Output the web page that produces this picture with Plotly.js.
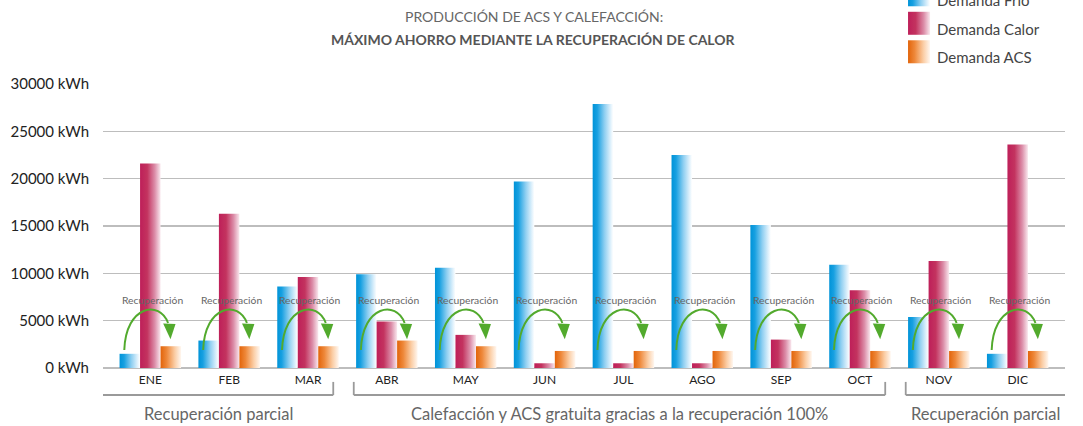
<!DOCTYPE html>
<html>
<head>
<meta charset="utf-8">
<script src="https://cdn.plot.ly/plotly-3.0.1.min.js"></script>
<style>
  html, body { margin: 0; padding: 0; background: #ffffff; }
  #chart { width: 1083px; height: 426px; }
</style>
</head>
<body>
<div id="chart"></div>
<script>
// Monthly energy demand (kWh)
const months = ['ENE', 'FEB', 'MAR', 'ABR', 'MAY', 'JUN', 'JUL', 'AGO', 'SEP', 'OCT', 'NOV', 'DIC'];
const demandaFrio  = [1500, 2900, 8600, 9900, 10600, 19700, 27900, 22500, 15100, 10900, 5400, 1500];
const demandaCalor = [21600, 16300, 9600, 4900, 3500, 500, 500, 500, 3000, 8200, 11300, 23600];
const demandaACS   = [2300, 2300, 2300, 2900, 2300, 1800, 1800, 1800, 1800, 1800, 1800, 1800];
const seriesNames  = ['Demanda Frío', 'Demanda Calor', 'Demanda ACS'];
const yTickValues  = [0, 5000, 10000, 15000, 20000, 25000, 30000];
const yTickLabels  = ['0 kWh', '5000 kWh', '10000 kWh', '15000 kWh', '20000 kWh', '25000 kWh', '30000 kWh'];

// Month ranges sharing a recovery regime
const groupLabels = ['Recuperación parcial', 'Calefacción y ACS gratuita gracias a la recuperación 100%', 'Recuperación parcial'];
const groupFrom   = [0, 3, 10];
const groupTo     = [2, 9, 11];

const titleLine1 = 'PRODUCCIÓN DE ACS Y CALEFACCIÓN:';
const titleLine2 = 'MÁXIMO AHORRO MEDIANTE LA RECUPERACIÓN DE CALOR';
const arrowLabel = 'Recuperación';

// Horizontal fades used for bars and legend swatches
const gradients = [
  [[0, '#0093d8'], [0.22, '#17a0e1'], [0.58, '#8fcff1'], [0.85, '#d8eefb'], [1, '#ffffff']],
  [[0, '#be1f59'], [0.35, '#c3335f'], [0.72, '#dc8ea9'], [1, '#f9e8ee']],
  [[0, '#e2640a'], [0.3, '#ee883a'], [0.7, '#fbcea6'], [1, '#fff7f0']]
];
const baseColors = ['#0093d8', '#be1f59', '#e2640a'];

const xMin = -0.6, xMax = 11.6;
const font = 'Lato, "Open Sans", sans-serif';
const green = '#52aa2d';

const values = [demandaFrio, demandaCalor, demandaACS];
const xs = months.map((m, i) => i);

const traces = values.map((v, k) => ({
  type: 'bar',
  name: seriesNames[k],
  x: xs,
  y: v,
  legendgroup: 'g' + k,
  marker: { color: baseColors[k], line: { width: 0 } },
  hoverinfo: 'skip'
}));

const shapes = [];
const annotations = [];

// Curved recovery arrow over each month group
xs.forEach(i => {
  shapes.push({
    type: 'path', xref: 'x', yref: 'y', layer: 'above',
    path: `M ${i - 0.33},1900 C ${i - 0.31},6650 ${i + 0.12},7200 ${i + 0.225},4750`,
    line: { color: green, width: 2 }
  });
  shapes.push({
    type: 'path', xref: 'x', yref: 'y', layer: 'above',
    path: `M ${i + 0.163},4700 L ${i + 0.32},4650 L ${i + 0.256},3050 Z`,
    fillcolor: green, line: { width: 0 }
  });
  annotations.push({
    xref: 'x', yref: 'y', x: i + 0.025, y: 7200, text: arrowLabel, showarrow: false,
    xanchor: 'center', yanchor: 'middle',
    font: { family: font, size: 10.3, color: '#666666' }
  });
});

// Brackets under the month labels
const bracketY = -0.095, bracketTop = -0.049;
groupLabels.forEach((label, g) => {
  const left = groupFrom[g] === 0 ? xMin : groupFrom[g] - 0.42;
  const right = groupTo[g] === months.length - 1 ? xMax : groupTo[g] + 0.32;
  const lineStyle = { color: '#9a9a9a', width: 1.8 };
  shapes.push({ type: 'line', xref: 'x', yref: 'paper', x0: left, x1: right, y0: bracketY, y1: bracketY, line: lineStyle });
  if (groupFrom[g] !== 0) {
    shapes.push({ type: 'line', xref: 'x', yref: 'paper', x0: left, x1: left, y0: bracketY, y1: bracketTop, line: lineStyle });
  }
  if (groupTo[g] !== months.length - 1) {
    shapes.push({ type: 'line', xref: 'x', yref: 'paper', x0: right, x1: right, y0: bracketY, y1: bracketTop, line: lineStyle });
  }
  annotations.push({
    xref: 'x', yref: 'paper', x: (left + right) / 2, y: -0.162, text: label, showarrow: false,
    xanchor: 'center', yanchor: 'middle',
    font: { family: font, size: 16.5, color: '#666666' }
  });
});

// Two-line heading
annotations.push({
  xref: 'paper', yref: 'paper', x: 0.448, y: 1.236, text: titleLine1, showarrow: false,
  xanchor: 'center', yanchor: 'middle', font: { family: font, size: 14, color: '#666666' }
});
annotations.push({
  xref: 'paper', yref: 'paper', x: 0.448, y: 1.155, text: '<b>' + titleLine2 + '</b>', showarrow: false,
  xanchor: 'center', yanchor: 'middle', font: { family: font, size: 14, color: '#555555' }
});

const layout = {
  width: 1083, height: 426,
  margin: { l: 103, r: 18, t: 84, b: 58, autoexpand: false },
  paper_bgcolor: '#ffffff', plot_bgcolor: '#ffffff',
  barmode: 'group', bargap: 0.22, bargroupgap: 0,
  font: { family: font, color: '#222222' },
  xaxis: {
    range: [xMin, xMax], tickvals: xs, ticktext: months,
    showgrid: false, zeroline: false, showline: false, ticks: '',
    ticklabelstandoff: 3,
    tickfont: { family: font, size: 12, color: '#222222' }
  },
  yaxis: {
    range: [0, 30000], tickvals: yTickValues, ticktext: yTickLabels,
    showgrid: true, gridcolor: '#bdbdbd', gridwidth: 1.5,
    zeroline: true, zerolinecolor: '#bdbdbd', zerolinewidth: 1.5,
    showline: false, ticks: '', ticklabelstandoff: 13,
    tickfont: { family: font, size: 15, color: '#222222' }
  },
  showlegend: true,
  legend: {
    x: 0.8254, y: 1.352, xanchor: 'left', yanchor: 'top',
    traceorder: 'grouped', tracegroupgap: 6,
    bgcolor: 'rgba(0,0,0,0)', borderwidth: 0,
    font: { family: font, size: 15, color: '#444444' }
  },
  shapes: shapes,
  annotations: annotations
};

function addGradientFills(gd) {
  const ns = 'http://www.w3.org/2000/svg';
  const defs = gd.querySelector('svg.main-svg defs');
  gradients.forEach((stops, k) => {
    const lg = document.createElementNS(ns, 'linearGradient');
    lg.setAttribute('id', 'demandFade' + k);
    lg.setAttribute('x1', '0'); lg.setAttribute('y1', '0');
    lg.setAttribute('x2', '1'); lg.setAttribute('y2', '0');
    stops.forEach(([off, col]) => {
      const st = document.createElementNS(ns, 'stop');
      st.setAttribute('offset', off);
      st.setAttribute('stop-color', col);
      lg.appendChild(st);
    });
    defs.appendChild(lg);
  });
  gd.querySelectorAll('.barlayer .trace.bars').forEach((t, k) => {
    t.querySelectorAll('path').forEach(p => { p.style.fill = 'url(#demandFade' + k + ')'; });
  });
  gd.querySelectorAll('.legend .traces').forEach((t, k) => {
    const p = t.querySelector('.legendpoints path');
    if (!p) return;
    p.setAttribute('d', 'M-9,6H13V-17H-9Z');
    p.style.fill = 'url(#demandFade' + k + ')';
    p.style.stroke = 'none';
  });
}

Plotly.newPlot('chart', traces, layout, { displayModeBar: false, staticPlot: true })
  .then(addGradientFills);
</script>
</body>
</html>
